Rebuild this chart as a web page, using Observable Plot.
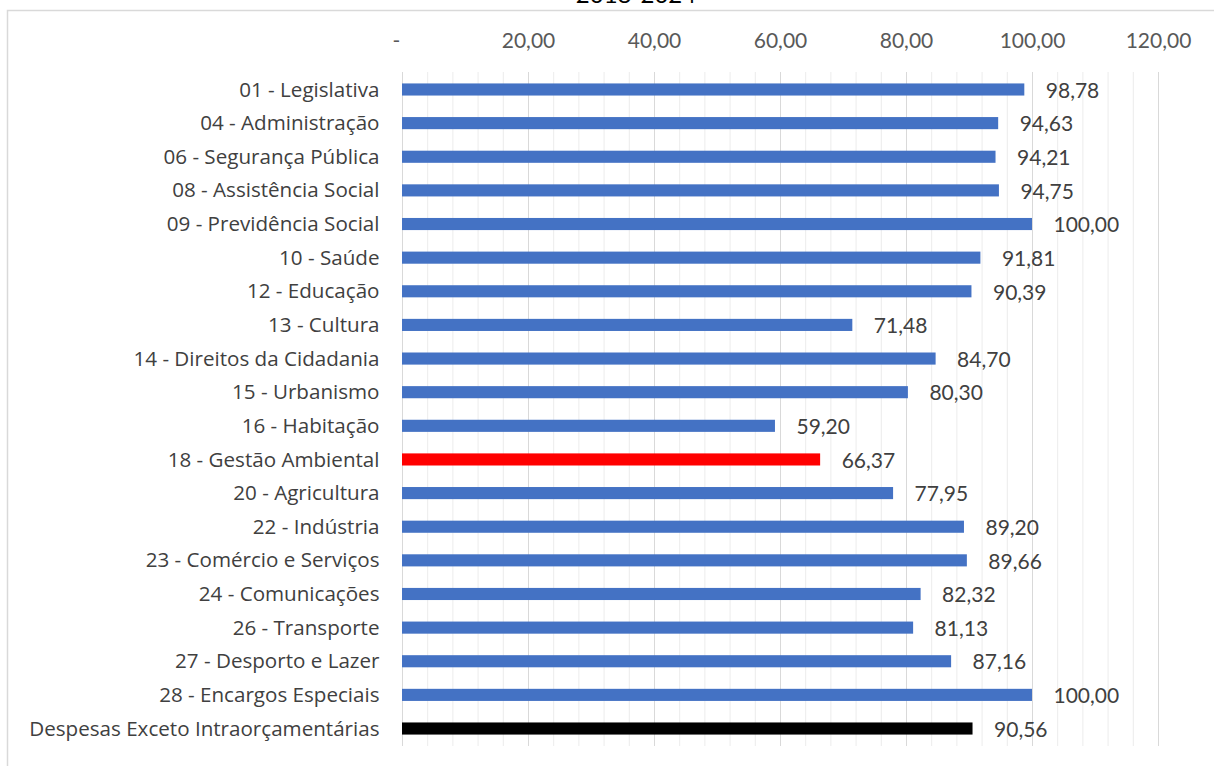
<!DOCTYPE html>
<html>
<head>
<meta charset="utf-8">
<script src="https://cdn.jsdelivr.net/npm/d3@7"></script>
<script src="https://cdn.jsdelivr.net/npm/@observablehq/plot@0.6"></script>
<style>
  html, body { margin: 0; padding: 0; background: #fff; }
  #chart { width: 1214px; height: 766px; overflow: hidden; }
</style>
</head>
<body>
<div id="chart"></div>
<script>
const title = "2018-2024";
const categories = [
  "01 - Legislativa",
  "04 - Administração",
  "06 - Segurança Pública",
  "08 - Assistência Social",
  "09 - Previdência Social",
  "10 - Saúde",
  "12 - Educação",
  "13 - Cultura",
  "14 - Direitos da Cidadania",
  "15 - Urbanismo",
  "16 - Habitação",
  "18 - Gestão Ambiental",
  "20 - Agricultura",
  "22 - Indústria",
  "23 - Comércio e Serviços",
  "24 - Comunicações",
  "26 - Transporte",
  "27 - Desporto e Lazer",
  "28 - Encargos Especiais",
  "Despesas Exceto Intraorçamentárias"
];
const values = [98.78, 94.63, 94.21, 94.75, 100.00, 91.81, 90.39, 71.48, 84.70, 80.30,
                59.20, 66.37, 77.95, 89.20, 89.66, 82.32, 81.13, 87.16, 100.00, 90.56];
const majorTicks = [0, 20, 40, 60, 80, 100, 120];
const minorTicks = [4, 8, 12, 16, 24, 28, 32, 36, 44, 48, 52, 56, 64, 68, 72, 76, 84, 88, 92, 96, 104, 108, 112, 116];
const highlightRed = "18 - Gestão Ambiental";
const highlightBlack = "Despesas Exceto Intraorçamentárias";

const data = categories.map((c, i) => ({category: c, value: values[i]}));
const ptBR = d3.formatLocale({decimal: ",", thousands: ".", grouping: [3], currency: ["R$", ""]});
const fmt = ptBR.format(",.2f");
const tickFmt = d => d === 0 ? "-\u2007" : fmt(d);
const barColor = d => d.category === highlightRed ? "#FF0000" : d.category === highlightBlack ? "#000000" : "#4472C4";

const FONT = "Lato, 'Noto Sans', sans-serif";
const CAT_FONT = "'Open Sans', Lato, sans-serif";

const chart = Plot.plot({
  width: 1214,
  height: 766,
  marginTop: 72,
  marginBottom: 20,
  marginLeft: 402,
  marginRight: 56,
  style: {fontFamily: FONT, background: "#fff", overflow: "visible"},
  x: {domain: [0, 120], axis: null, label: null},
  y: {domain: categories, paddingInner: 0.64, paddingOuter: 0.34, round: false, axis: null, label: null},
  marks: [
    Plot.ruleX(minorTicks, {stroke: "#ececec", strokeWidth: 1}),
    Plot.ruleX(majorTicks, {stroke: "#d9d9d9", strokeWidth: 1}),
    Plot.axisX({ticks: majorTicks, anchor: "top", tickSize: 0, tickPadding: 25, label: null,
      tickFormat: tickFmt, fontSize: 21, fill: "#595959", fontFamily: FONT}),
    Plot.axisY({anchor: "left", tickSize: 0, tickPadding: 23, fontSize: 20.6, label: null,
      fill: "#404040", fontFamily: CAT_FONT}),
    Plot.barX(data, {x: "value", y: "category", fill: barColor}),
    Plot.text(data, {x: "value", y: "category", text: d => fmt(d.value), dx: 21, dy: 1,
      textAnchor: "start", fontSize: 21, fill: "#404040", fontFamily: FONT})
  ]
});

const svg = d3.select(chart);
svg.append("path")
  .attr("d", "M7.5,770 V10.5 H1220")
  .attr("fill", "none")
  .attr("stroke", "#d9d9d9")
  .attr("stroke-width", 1.5);
svg.append("text")
  .attr("x", 636)
  .attr("y", 3)
  .attr("text-anchor", "middle")
  .attr("font-size", 24)
  .attr("font-family", FONT)
  .attr("fill", "#000")
  .text(title);

document.getElementById("chart").appendChild(chart);
</script>
</body>
</html>
